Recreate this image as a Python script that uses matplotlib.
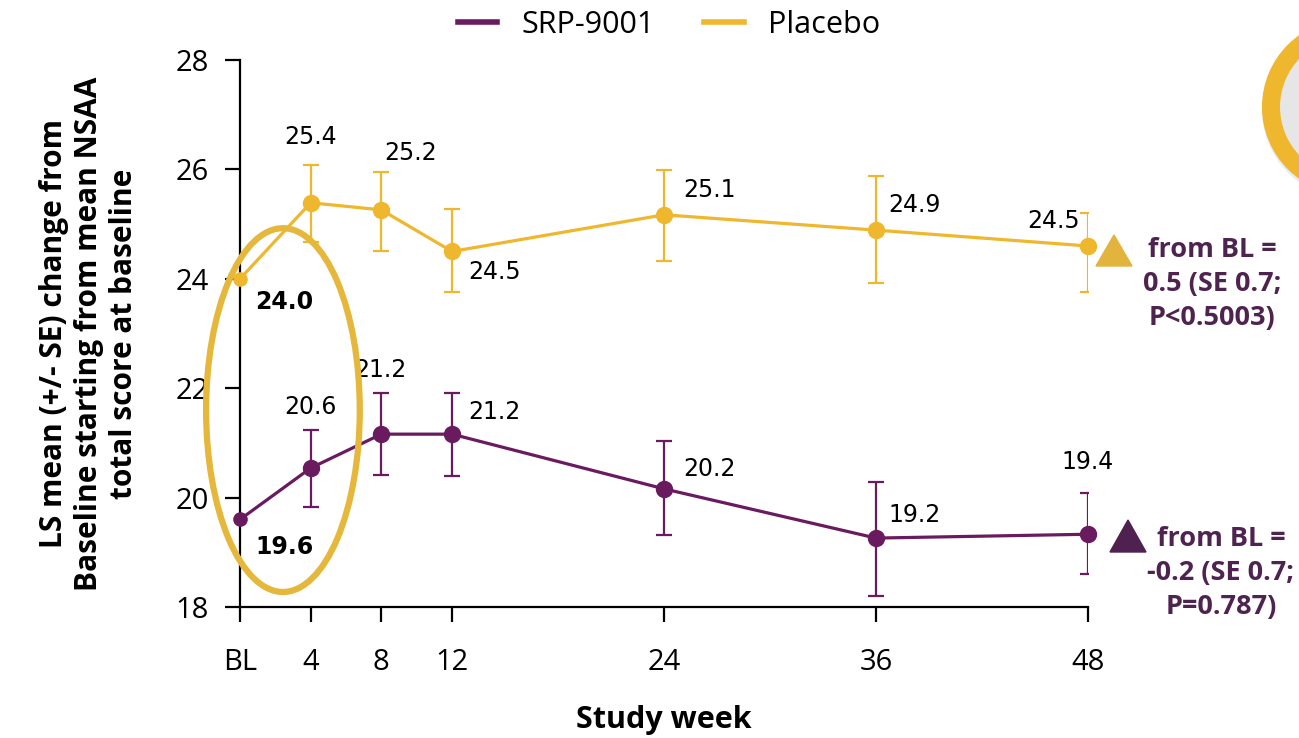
import numpy as np
import matplotlib
matplotlib.use('Agg')
import matplotlib.pyplot as plt
from matplotlib.patches import Ellipse, Circle, Polygon
from matplotlib.lines import Line2D

# datos
semanas = [0, 4, 8, 12, 24, 36, 48]
etiquetas_x = ['BL', '4', '8', '12', '24', '36', '48']

placebo = [24.0, 25.39, 25.26, 24.5, 25.17, 24.89, 24.6]
placebo_sup = [26.08, 25.95, 25.28, 25.99, 25.88, 25.2]   # desde semana 4
placebo_inf = [24.67, 24.5, 23.76, 24.33, 23.92, 23.76]
placebo_txt = ['24.0', '25.4', '25.2', '24.5', '25.1', '24.9', '24.5']

srp = [19.6, 20.54, 21.16, 21.16, 20.16, 19.26, 19.33]
srp_sup = [21.24, 21.91, 21.91, 21.03, 20.29, 20.08]
srp_inf = [19.83, 20.41, 20.39, 19.32, 18.21, 18.6]
srp_txt = ['19.6', '20.6', '21.2', '21.2', '20.2', '19.2', '19.4']

nota_placebo = 'from BL =\n0.5 (SE 0.7;\nP<0.5003)'
nota_srp = 'from BL =\n-0.2 (SE 0.7;\nP=0.787)'

c_srp = '#6A1B5F'
c_pla = '#EFB72E'
c_nota = '#4F2350'
fuente = 'Open Sans'

fig = plt.figure(figsize=(12.99, 7.38), dpi=100)
ax = fig.add_axes([240/1299, 1-607/738, 848/1299, 547/738])

x = np.array(semanas)
for y, sup, inf, c in [(placebo, placebo_sup, placebo_inf, c_pla),
                       (srp, srp_sup, srp_inf, c_srp)]:
    y = np.array(y)
    ax.plot(x, y, color=c, lw=2.3, zorder=3)
    ax.plot(x[:1], y[:1], color=c, ls='none', marker='o', ms=9.5, clip_on=False, zorder=3)
    ax.plot(x[1:], y[1:], color=c, ls='none', marker='o', ms=11.5, clip_on=False, zorder=3)
    err = [y[1:] - np.array(inf), np.array(sup) - y[1:]]
    ax.errorbar(x[1:], y[1:], yerr=err, fmt='none', ecolor=c, elinewidth=1.6,
                capsize=5.5, capthick=1.6, zorder=3)

# posiciones de las etiquetas (offset en puntos)
off_pla = [(11, -17), (0, 47), (2, 41), (12, -15), (14, 18), (9, 18), (-6, 18)]
ha_pla = ['left', 'center', 'left', 'left', 'left', 'left', 'right']
off_srp = [(11, -20), (0, 44), (-1, 46), (12, 16), (14, 14), (9, 16.5), (0, 52)]
ha_srp = ['left', 'center', 'center', 'left', 'left', 'left', 'center']

for i in range(len(semanas)):
    peso = 'bold' if i == 0 else 'normal'
    ax.annotate(placebo_txt[i], (semanas[i], placebo[i]), xytext=off_pla[i],
                textcoords='offset points', ha=ha_pla[i], va='center',
                fontsize=17, fontweight=peso, family='DejaVu Sans')
    ax.annotate(srp_txt[i], (semanas[i], srp[i]), xytext=off_srp[i],
                textcoords='offset points', ha=ha_srp[i], va='center',
                fontsize=17, fontweight=peso, family='DejaVu Sans')

# elipse alrededor de BL y semana 4
ax.add_patch(Ellipse((2.43, 21.6), 8.7, 6.65, fill=False, ec='#E5B73B', lw=4.5,
                     clip_on=False, zorder=4))

ax.set_xlim(0, 48)
ax.set_ylim(18, 28)
ax.set_xticks(semanas)
ax.set_xticklabels(etiquetas_x)
ax.set_yticks(np.arange(18, 29, 2))
ax.tick_params(labelsize=21, length=10.5, width=1.6)
ax.tick_params(axis='x', pad=19)
ax.tick_params(axis='y', pad=12)
for t in ax.get_xticklabels() + ax.get_yticklabels():
    t.set_family(fuente)
for s in ['top', 'right']:
    ax.spines[s].set_visible(False)
for s in ['left', 'bottom']:
    ax.spines[s].set_linewidth(1.6)

ax.set_xlabel('Study week', fontsize=22, fontweight='bold', family=fuente, labelpad=20)
ax.set_ylabel('LS mean (+/- SE) change from\nBaseline starting from mean NSAA\ntotal score at baseline',
              fontsize=21.5, fontweight='bold', family=fuente, labelpad=26, linespacing=1.22)

# leyenda
h1 = Line2D([], [], color=c_srp, lw=4)
h2 = Line2D([], [], color=c_pla, lw=4)
fig.legend([h1, h2], ['SRP-9001', 'Placebo'], loc='center', bbox_to_anchor=(0.515, 0.966),
           ncol=2, frameon=False, prop={'family': fuente, 'size': 22},
           handlelength=1.3, columnspacing=1.6, handletextpad=0.8)

# notas a la derecha
over = fig.add_axes([0, 0, 1, 1], zorder=10)
over.set_xlim(0, 1299)
over.set_ylim(738, 0)
over.axis('off')
over.add_patch(Polygon([[1096, 266], [1132, 266], [1114, 235]], color='#E2B43D'))
over.add_patch(Polygon([[1110, 552], [1146, 552], [1128, 520]], color='#4E2150'))
over.text(1212, 284, nota_placebo, ha='center', va='center', fontsize=19.5, fontweight='bold',
          family=fuente, color=c_nota, linespacing=1.38)
over.text(1221, 573, nota_srp, ha='center', va='center', fontsize=19.5, fontweight='bold',
          family=fuente, color=c_nota, linespacing=1.38)

# circulo parcial arriba a la derecha
over.add_patch(Circle((1351, 110), 80, fc='none', ec='#D5DCE8', lw=13, alpha=0.5))
over.add_patch(Circle((1350, 107), 79, fc='#E6E6E6', ec='#EFB72E', lw=13))

fig.savefig('out.png', dpi=100)
